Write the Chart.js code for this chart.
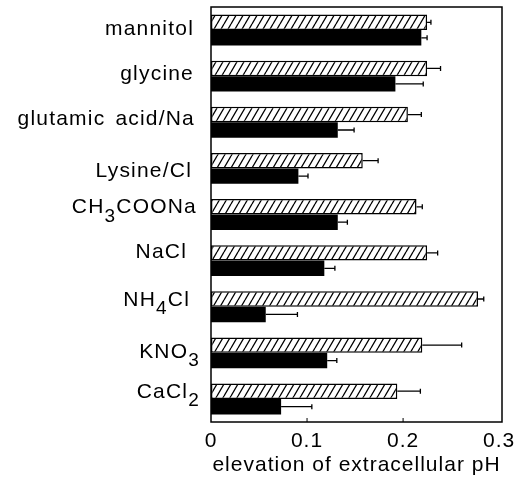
<!DOCTYPE html>
<html>
<head>
<meta charset="utf-8">
<script src="https://cdn.jsdelivr.net/npm/chart.js@4"></script>
<style>
  html, body { margin: 0; padding: 0; background: #fff; }
</style>
</head>
<body>
<canvas id="phChart" width="522" height="487"></canvas>
<script>
/* elevation of extracellular pH, per medium */
const CATEGORIES = [
  "mannitol",
  "glycine",
  "glutamic acid/Na",
  "Lysine/Cl",
  "CH3COONa",
  "NaCl",
  "NH4Cl",
  "KNO3",
  "CaCl2",
];
const HATCHED = [0.225, 0.225, 0.205, 0.158, 0.214, 0.225, 0.278, 0.220, 0.194];
const HATCHED_ERR = [0.004, 0.014, 0.014, 0.016, 0.006, 0.011, 0.006, 0.041, 0.024];
const SOLID = [0.219, 0.192, 0.132, 0.091, 0.132, 0.118, 0.057, 0.121, 0.073];
const SOLID_ERR = [0.006, 0.029, 0.017, 0.010, 0.010, 0.011, 0.033, 0.010, 0.032];
const X_TICKS = [0, 0.1, 0.2, 0.3];
const X_TITLE = "elevation of extracellular pH";

/* label placement tweaks (px) */
const LABEL_RIGHT = 195;
const LABEL_DX = [-1, -1, 0, -3, 2, -8, -5, 5, 5];
const LABEL_DY = [-1, -2, -3, 3, -7, -8, -7, -1, -7];

const FONT_FAMILY = "'Liberation Sans', Arial, Helvetica, sans-serif";
const FONT_SIZE = 21;

function makeHatch() {
  const c = document.createElement("canvas");
  c.width = 7;
  c.height = 12;
  const g = c.getContext("2d");
  g.fillStyle = "#fff";
  g.fillRect(0, 0, 7, 12);
  g.strokeStyle = "#000";
  g.lineWidth = 1.3;
  g.beginPath();
  [-7, 0, 7].forEach((dx) => {
    g.moveTo(dx, 12);
    g.lineTo(dx + 7, 0);
  });
  g.stroke();
  return g.createPattern(c, "repeat");
}

const textSpacing = {
  id: "textSpacing",
  beforeDraw(chart) {
    chart.ctx.letterSpacing = "1px";
  },
};

const errorBars = {
  id: "errorBars",
  afterDatasetsDraw(chart) {
    const { ctx } = chart;
    const x = chart.scales.x;
    ctx.save();
    ctx.strokeStyle = "#000";
    ctx.lineWidth = 1.3;
    chart.data.datasets.forEach((ds, i) => {
      chart.getDatasetMeta(i).data.forEach((bar, j) => {
        const x1 = x.getPixelForValue(ds.data[j] + ds.errors[j]);
        ctx.beginPath();
        ctx.moveTo(bar.x, bar.y);
        ctx.lineTo(x1, bar.y);
        ctx.moveTo(x1, bar.y - 2.5);
        ctx.lineTo(x1, bar.y + 2.5);
        ctx.stroke();
      });
    });
    ctx.restore();
  },
};

const frame = {
  id: "frame",
  afterDatasetsDraw(chart) {
    const { ctx, chartArea: a } = chart;
    const x = chart.scales.x;
    ctx.save();
    ctx.strokeStyle = "#000";
    ctx.lineWidth = 1.5;
    ctx.strokeRect(a.left, a.top, a.right - a.left, a.bottom - a.top);
    ctx.lineWidth = 1;
    ctx.beginPath();
    X_TICKS.slice(1, -1).forEach((v) => {
      const px = x.getPixelForValue(v);
      ctx.moveTo(px, a.bottom);
      ctx.lineTo(px, a.bottom - 4);
    });
    ctx.stroke();
    ctx.restore();
  },
};

// category names, with digits set as subscripts
const categoryLabels = {
  id: "categoryLabels",
  afterDraw(chart) {
    const { ctx } = chart;
    const y = chart.scales.y;
    const main = `${FONT_SIZE}px ${FONT_FAMILY}`;
    const sub = `${Math.round(FONT_SIZE * 0.9)}px ${FONT_FAMILY}`;
    ctx.save();
    ctx.fillStyle = "#000";
    ctx.textBaseline = "middle";
    ctx.textAlign = "left";
    ctx.letterSpacing = "1.2px";
    ctx.wordSpacing = "3px";
    CATEGORIES.forEach((name, i) => {
      const parts = name.match(/\d+|\D+/g);
      let width = 0;
      parts.forEach((p) => {
        ctx.font = /\d/.test(p) ? sub : main;
        width += ctx.measureText(p).width;
      });
      let px = LABEL_RIGHT + LABEL_DX[i] - width;
      const py = y.getPixelForValue(i) + LABEL_DY[i];
      parts.forEach((p) => {
        const isSub = /\d/.test(p);
        ctx.font = isSub ? sub : main;
        ctx.fillText(p, px, isSub ? py + 9 : py);
        px += ctx.measureText(p).width;
      });
    });
    ctx.restore();
  },
};

function initChart() {
  const canvas = document.getElementById("phChart");
  const hatch = makeHatch();

  new Chart(canvas, {
    type: "bar",
    data: {
      labels: CATEGORIES,
      datasets: [
        {
          data: HATCHED,
          errors: HATCHED_ERR,
          backgroundColor: hatch,
          borderColor: "#000",
          borderWidth: 1.5,
          borderSkipped: false,
        },
        {
          data: SOLID,
          errors: SOLID_ERR,
          backgroundColor: "#000",
          borderWidth: 0,
        },
      ],
    },
    options: {
      indexAxis: "y",
      responsive: false,
      animation: false,
      events: [],
      categoryPercentage: 0.67,
      barPercentage: 1,
      layout: { padding: { left: 211, right: 20, top: 7, bottom: 0 } },
      scales: {
        y: { display: false },
        x: {
          min: 0,
          max: 0.303,
          afterBuildTicks: (scale) => {
            scale.ticks = X_TICKS.map((v) => ({ value: v }));
          },
          afterFit: (scale) => {
            scale.height = 65;
          },
          grid: { display: false, drawTicks: false },
          border: { display: false },
          ticks: {
            color: "#000",
            padding: 7,
            maxRotation: 0,
            font: { family: FONT_FAMILY, size: FONT_SIZE },
            callback: (v) => String(v),
          },
          title: {
            display: true,
            text: X_TITLE,
            color: "#000",
            padding: { top: 0, bottom: 11 },
            font: { family: FONT_FAMILY, size: FONT_SIZE, lineHeight: 1 },
          },
        },
      },
      plugins: {
        legend: { display: false },
        tooltip: { enabled: false },
      },
    },
    plugins: [textSpacing, errorBars, frame, categoryLabels],
  });
}

document.addEventListener("DOMContentLoaded", initChart);
</script>
</body>
</html>
